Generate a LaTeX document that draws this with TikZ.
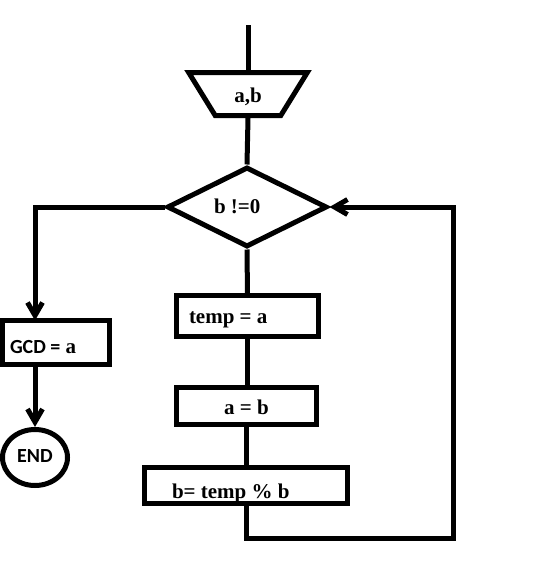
\documentclass[tikz,border=0pt]{standalone}
\usepackage{fontspec}
\setmainfont{Liberation Serif}
\newfontfamily\calfont{Carlito}
\usetikzlibrary{shapes.geometric,arrows.meta}
\begin{document}
\begin{tikzpicture}[x=1pt,y=-1pt,line width=5pt,line join=miter,
  font=\fontsize{21}{25}\selectfont\bfseries,
  box/.style={draw,rectangle,inner sep=0pt,outer sep=0pt},
  arr/.style={-{Straight Barb[length=13pt,width=15pt]}}]
\useasboundingbox (0,0) rectangle (547,576);
\path
(248,25) coordinate (top)
(453,538) coordinate (loop)
;
\node[draw,trapezium,shape border rotate=180,trapezium stretches=true,
  trapezium left angle=61,trapezium right angle=61,
  minimum width=119,minimum height=43,inner sep=0pt] (in) at (248,94)
  {\raisebox{-8pt}[10pt][10pt]{a,b}};
\node[draw,diamond,minimum width=160,minimum height=80,inner sep=0pt] (dec) at (247,207)
  {\raisebox{-6pt}[0pt][0pt]{\makebox[66pt][l]{b !=0}}};
\node[box,minimum width=107,minimum height=44] (gcd) at (56,342.5)
  {\raisebox{-10.5pt}[0pt][0pt]{\makebox[92pt][l]{{\calfont\fontsize{20}{24}\selectfont GCD =} a}}};
\node[draw,ellipse,minimum width=65,minimum height=56,inner sep=0pt,
  font=\calfont\fontsize{20}{24}\selectfont\bfseries] (fin) at (35,457.5)
  {\raisebox{-5pt}[0pt][0pt]{END}};
\node[box,minimum width=142,minimum height=41] (tmp) at (247.5,316)
  {\raisebox{-7pt}[0pt][0pt]{\makebox[117pt][l]{temp = a}}};
\node[box,minimum width=140,minimum height=37] (swp) at (246.5,406)
  {\raisebox{-8pt}[0pt][0pt]{a = b}};
\node[box,minimum width=203,minimum height=36] (upd) at (246,485.5)
  {\raisebox{-12.5pt}[0pt][0pt]{\makebox[148pt][l]{b= temp \% b}}};
% flow
\draw (top) -- (top |- in.north);
\draw (in.south) -- (dec.north);
\draw[arr] (dec.west) -| (fin |- gcd.north);
\draw[arr] (fin |- gcd.south) -- (fin.north);
\draw (dec.south) -- (tmp.north);
\draw (tmp.south) -- (tmp.south |- swp.north);
\draw (swp.south) -- (swp.south |- upd.north);
\draw[arr] (upd.south) |- (loop) |- (dec.east);
\end{tikzpicture}
\end{document}
